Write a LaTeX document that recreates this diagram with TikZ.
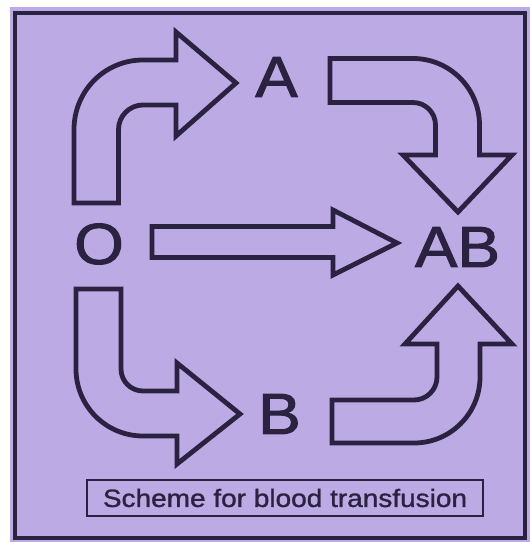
\documentclass[tikz,border=0pt]{standalone}
\usepackage{fontspec}
\setmainfont{Liberation Sans}
\newfontfamily\boldish[FakeBold=1.6]{Liberation Sans}
\newfontfamily\capfont[FakeBold=1.2]{Liberation Sans}
\definecolor{lav}{HTML}{BCAAE4}
\definecolor{ink}{HTML}{2A2240}
\begin{document}
\begin{tikzpicture}[x=1pt,y=-1pt,
  blockarrow/.style={draw=ink, line width=4.8pt, line join=miter},
  lbl/.style={inner sep=0pt, text=ink, font=\boldish\fontsize{58}{60}\selectfont},
  capbox/.style={draw=ink, line width=2.6pt, minimum width=396pt, minimum height=36pt, inner sep=0pt, text=ink, font=\capfont\fontsize{25}{26}\selectfont}]
\useasboundingbox (0,0) rectangle (530,542);
\fill[white] (0,0) rectangle (530,542);
\fill[lav] (10,7) rectangle (530,542);
\draw[ink, line width=4.5pt] (15,13) rectangle (525,538);
% O -> A
\draw[blockarrow] (74,203) -- (74,129.5) .. controls (74,91.1) and (104.6,60) .. (143,60) -- (176,60) -- (176,32) -- (236,83) -- (176,136) -- (176,105) -- (143,105) .. controls (129.5,105) and (118.5,116) .. (118.5,129.5) -- (118.5,203) -- cycle;
% A -> AB
\draw[blockarrow] (330,58.5) -- (413,58.5) .. controls (449.7,58.5) and (479.5,88.3) .. (479.5,125) -- (479.5,155) -- (512,155) -- (458,212) -- (403,155) -- (435.5,155) -- (435.5,125) .. controls (435.5,112.6) and (425.4,102.5) .. (413,102.5) -- (330,102.5) -- cycle;
% O -> AB
\draw[blockarrow] (152,226.5) -- (333,226.5) -- (333,210) -- (397,243) -- (333,275) -- (333,257.5) -- (152,257.5) -- cycle;
% O -> B
\draw[blockarrow] (76,289) -- (76,369) .. controls (76,406) and (106,436) .. (143,436) -- (177,436) -- (177,464) -- (240,414) -- (177,363) -- (177,391) -- (143,391) .. controls (130.85,391) and (121,381.15) .. (121,369) -- (121,289) -- cycle;
% B -> AB
\draw[blockarrow] (332,400) -- (414,400) .. controls (426.7,400) and (437,389.7) .. (437,377) -- (437,344) -- (405,344) -- (458,286) -- (512,344) -- (480,344) -- (480,377) .. controls (480,413.5) and (450.5,443) .. (414,443) -- (332,443) -- cycle;
% labels
\node[lbl] (O) at (99,244) {\scalebox{1.1}[1]{O}};
\node[lbl] (A) at (276.5,77) {\scalebox{1.1}[1]{A}};
\node[lbl] (B) at (279.5,414) {\scalebox{1.1}[1]{B}};
\node[lbl] (AB) at (457.5,247) {\scalebox{1.1}[1]{AB}};
\node[capbox] (cap) at (285,498) {\scalebox{1.12}[1]{Scheme for blood transfusion}};
\end{tikzpicture}
\end{document}
